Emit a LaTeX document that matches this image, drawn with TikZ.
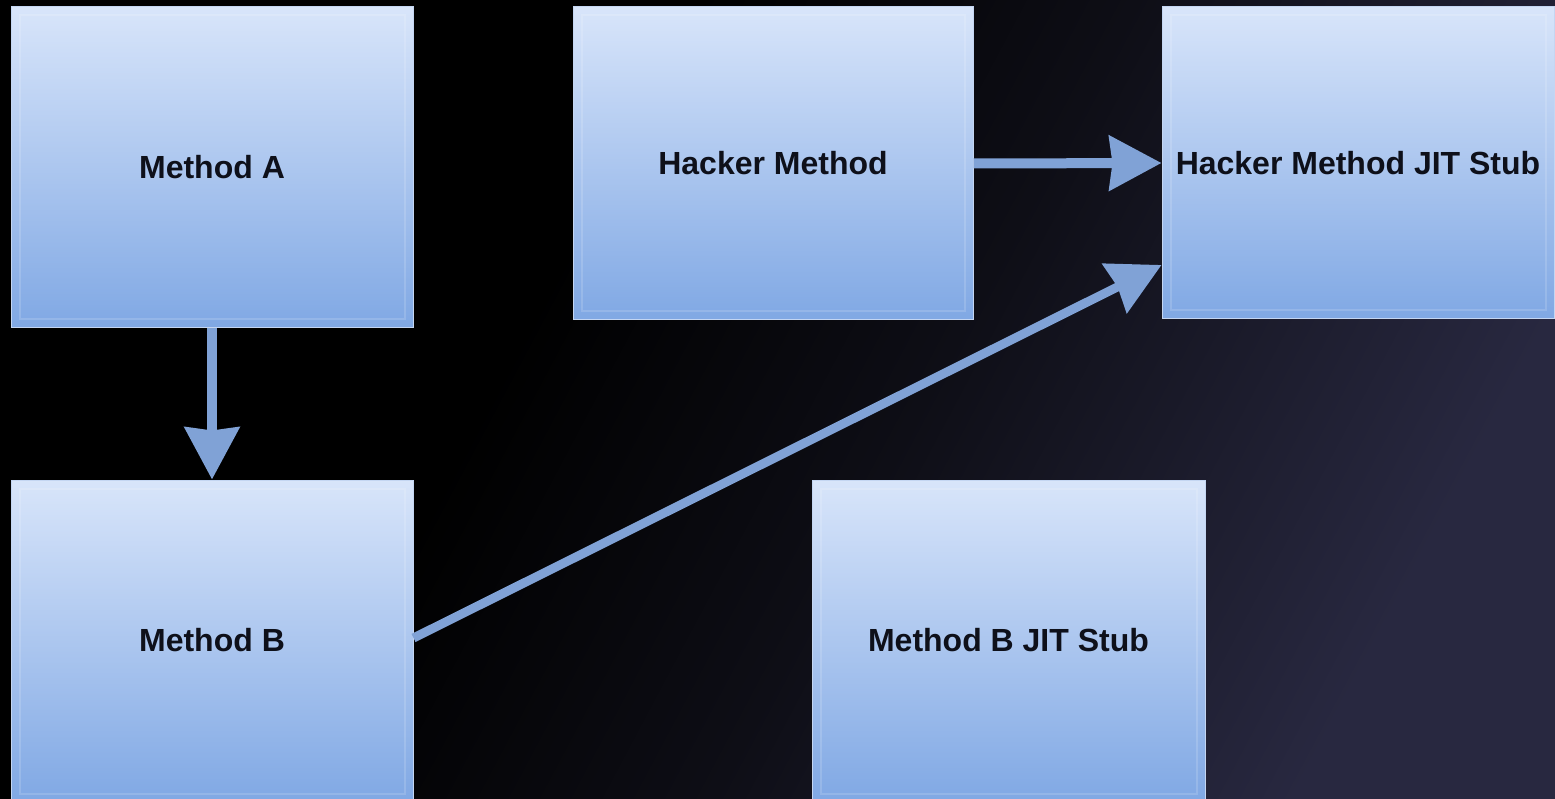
\documentclass[tikz,border=0pt]{standalone}
\usepackage{fontspec}
\setmainfont{Liberation Sans}
\usetikzlibrary{arrows.meta}
\definecolor{bgq}{RGB}{14,14,22}
\definecolor{bgend}{RGB}{40,40,64}
\definecolor{boxtop}{RGB}{216,229,250}
\definecolor{boxmid}{RGB}{190,209,241}
\definecolor{boxbot}{RGB}{128,168,228}
\definecolor{boxedge}{RGB}{196,214,242}
\definecolor{arrowc}{RGB}{128,162,214}
\definecolor{txt}{RGB}{14,16,26}
\pgfdeclareverticalshading{bgsh}{100bp}{color(0bp)=(bgend); color(25bp)=(bgend); color(45bp)=(bgq); color(60bp)=(black); color(100bp)=(black)}
\tikzset{
  box/.style={rectangle, draw=boxedge, line width=1pt, top color=boxtop, middle color=boxmid, bottom color=boxbot,
    minimum width=#1, inner sep=0pt, text=txt,
    font=\fontsize{32}{36}\selectfont\bfseries},
  box/.default=400pt,
  inset/.style={draw=white, draw opacity=0.15, line width=2pt},
  arr/.style={draw=arrowc, line width=10pt, -{Stealth[length=52pt,width=54pt,inset=3pt]}},
}
\begin{document}
\begin{tikzpicture}[x=1pt,y=-1pt]
\useasboundingbox (0,0) rectangle (1555,799);
\clip (0,0) rectangle (1555,799);
\shade[shading=bgsh, shading angle=62] (0,0) rectangle (1555,799);

\node[box=402pt, minimum height=321pt] (ma) at (212,167.5) {Method A};
\node[box=402pt, minimum height=322pt] (mb) at (212,641) {\raisebox{3pt}{Method B}};
\node[box=400pt, minimum height=313pt] (hm) at (773,163.5) {Hacker Method};
\node[box=392pt, minimum height=312pt] (hj) at (1358,163) {Hacker Method JIT Stub};
\node[box=393pt, minimum height=322pt] (bj) at (1008.5,641) {\raisebox{3pt}{Method B JIT Stub}};

\foreach \n in {ma,mb,hm,hj,bj}{
  \draw[inset] ([shift={(9pt,-9pt)}]\n.north west) rectangle ([shift={(-9pt,9pt)}]\n.south east);
}

\coordinate (mbout) at ([yshift=3pt]mb.east);
\coordinate (hjlow) at ([yshift=-102pt]hj.west);
\draw[arr] (ma.south) -- (mb.north);
\draw[arr] (hm.east) -- (hj.west);
\draw[arr, line width=9pt] (mbout) -- (hjlow);
\end{tikzpicture}
\end{document}
